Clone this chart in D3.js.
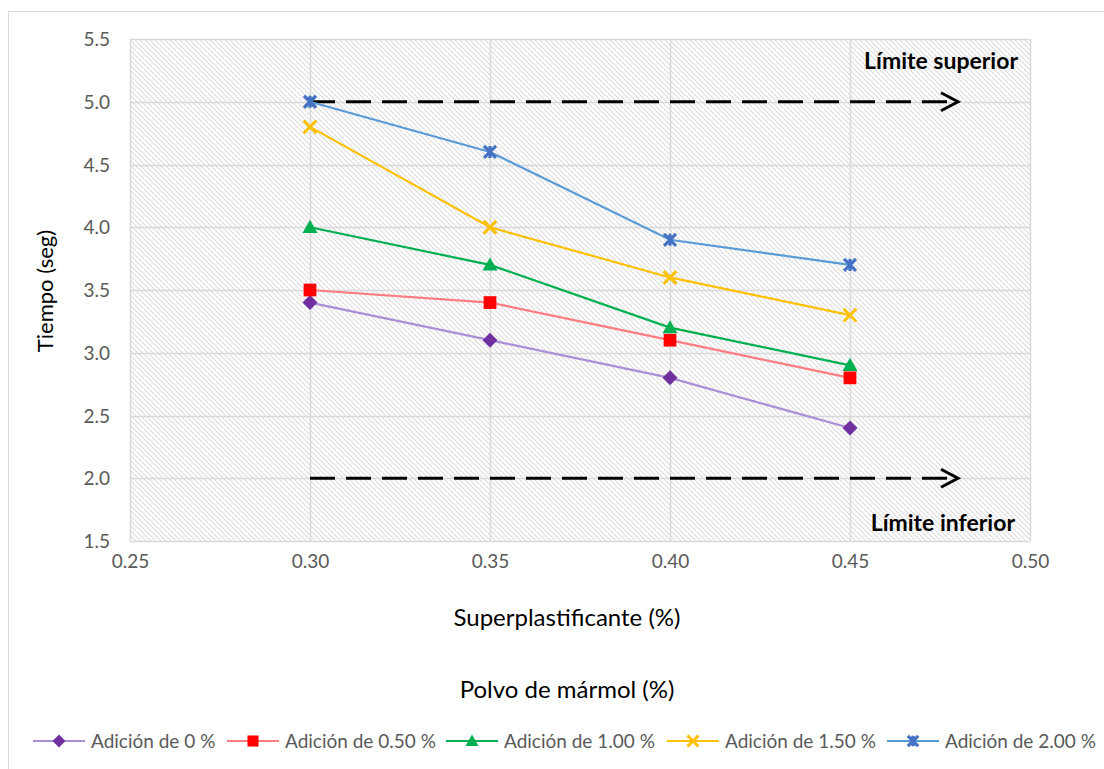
<!DOCTYPE html>
<html>
<head>
<meta charset="utf-8">
<script src="https://d3js.org/d3.v7.min.js"></script>
<style>
  body { margin:0; background:#fff; font-family:Lato, "Open Sans", sans-serif; }
  svg { display:block; font-family:Lato, "Open Sans", sans-serif; }
</style>
</head>
<body>
<div id="chart"></div>
<script>
// data
const xValues = [0.30, 0.35, 0.40, 0.45];
const xTicks = [0.25, 0.30, 0.35, 0.40, 0.45, 0.50];
const yTicks = [1.5, 2.0, 2.5, 3.0, 3.5, 4.0, 4.5, 5.0, 5.5];
const seriesNames = ["Adición de 0 %", "Adición de 0.50 %", "Adición de 1.00 %", "Adición de 1.50 %", "Adición de 2.00 %"];
const add0 = [3.4, 3.1, 2.8, 2.4];
const add050 = [3.5, 3.4, 3.1, 2.8];
const add100 = [4.0, 3.7, 3.2, 2.9];
const add150 = [4.8, 4.0, 3.6, 3.3];
const add200 = [5.0, 4.6, 3.9, 3.7];
const limitUpper = 5.0, limitLower = 2.0;
const limitXStart = 0.30, limitXEnd = 0.48;

const W = 1104, H = 769;
const m = { left: 130, right: 74, top: 39, bottom: 228 };

const series = [
  { name: seriesNames[0], values: add0, line: "#ab8fd6", fill: "#7030a0", shape: "diamond" },
  { name: seriesNames[1], values: add050, line: "#ff7c80", fill: "#ff0000", shape: "square" },
  { name: seriesNames[2], values: add100, line: "#00b050", fill: "#00b050", shape: "triangle" },
  { name: seriesNames[3], values: add150, line: "#ffc000", fill: "#ffc000", shape: "x" },
  { name: seriesNames[4], values: add200, line: "#5b9bd5", fill: "#4472c4", shape: "star" }
];

const svg = d3.select("#chart").append("svg").attr("width", W).attr("height", H);

// outer chart border
svg.append("rect").attr("x", 8.5).attr("y", 11.5).attr("width", W).attr("height", H)
  .attr("fill", "#fff").attr("stroke", "#d9d9d9");

const defs = svg.append("defs");
const pat = defs.append("pattern").attr("id", "hatch")
  .attr("patternUnits", "userSpaceOnUse").attr("width", 5).attr("height", 5);
pat.append("path").attr("d", "M-1,-1L6,6M-1,4L1,6M4,-1L6,1")
  .attr("stroke", "#dcdcdc").attr("stroke-width", 1.1);

const x = d3.scaleLinear().domain([0.25, 0.50]).range([m.left, W - m.right]);
const y = d3.scaleLinear().domain([1.5, 5.5]).range([H - m.bottom, m.top]);

svg.append("rect").attr("x", m.left).attr("y", m.top)
  .attr("width", x(0.5) - x(0.25)).attr("height", y(1.5) - y(5.5))
  .attr("fill", "url(#hatch)");

// gridlines
svg.append("g").selectAll("line").data(yTicks).join("line")
  .attr("x1", m.left).attr("x2", x(0.5))
  .attr("y1", d => Math.round(y(d)) + 0.5).attr("y2", d => Math.round(y(d)) + 0.5)
  .attr("stroke", "#d9d9d9").attr("stroke-width", 1.5);
svg.append("g").selectAll("line").data(xTicks).join("line")
  .attr("y1", m.top).attr("y2", y(1.5))
  .attr("x1", d => Math.round(x(d)) + 0.5).attr("x2", d => Math.round(x(d)) + 0.5)
  .attr("stroke", "#d9d9d9").attr("stroke-width", 1.5);

// axes (labels only)
const xAxis = svg.append("g").attr("transform", `translate(0,${y(1.5)})`)
  .call(d3.axisBottom(x).tickValues(xTicks).tickFormat(d3.format(".2f")).tickSize(0).tickPadding(14));
xAxis.select(".domain").remove();
const yAxis = svg.append("g").attr("transform", `translate(${m.left},0)`)
  .call(d3.axisLeft(y).tickValues(yTicks).tickFormat(d3.format(".1f")).tickSize(0).tickPadding(20));
yAxis.select(".domain").remove();
svg.selectAll(".tick text").attr("font-size", 19).attr("fill", "#595959")
  .attr("font-family", "Lato, sans-serif");
yAxis.selectAll("text").attr("dy", "0.35em");

// axis titles
svg.append("text").attr("x", 567).attr("y", 626).attr("text-anchor", "middle")
  .attr("font-size", 24).attr("fill", "#000").text("Superplastificante (%)");
svg.append("text").attr("x", 567).attr("y", 698).attr("text-anchor", "middle")
  .attr("font-size", 24).attr("fill", "#000").text("Polvo de mármol (%)");
svg.append("text").attr("transform", "translate(53,291) rotate(-90)").attr("text-anchor", "middle")
  .attr("font-size", 22).attr("fill", "#000").text("Tiempo (seg)");

// limit arrows
[limitUpper, limitLower].forEach(v => {
  const yy = y(v);
  svg.append("line").attr("x1", x(limitXStart)).attr("x2", x(limitXEnd) - 2)
    .attr("y1", yy).attr("y2", yy)
    .attr("stroke", "#000").attr("stroke-width", 3).attr("stroke-dasharray", "25,11");
  svg.append("path")
    .attr("d", `M${x(limitXEnd) - 17},${yy - 9}L${x(limitXEnd)},${yy}L${x(limitXEnd) - 17},${yy + 9}`)
    .attr("fill", "none").attr("stroke", "#000").attr("stroke-width", 3);
});
svg.append("text").attr("x", 1018).attr("y", 69).attr("text-anchor", "end")
  .attr("font-size", 23).attr("font-weight", "bold").text("Límite superior");
svg.append("text").attr("x", 1015).attr("y", 531).attr("text-anchor", "end")
  .attr("font-size", 23).attr("font-weight", "bold").text("Límite inferior");

function drawMarker(g, shape, color, s) {
  if (shape === "diamond") {
    g.append("path").attr("d", `M0,${-s}L${s},0L0,${s}L${-s},0Z`).attr("fill", color);
  } else if (shape === "square") {
    g.append("rect").attr("x", -s * 0.85).attr("y", -s * 0.85).attr("width", s * 1.7).attr("height", s * 1.7).attr("fill", color);
  } else if (shape === "triangle") {
    g.append("path").attr("d", `M0,${-s}L${s},${s * 0.75}L${-s},${s * 0.75}Z`).attr("fill", color);
  } else if (shape === "x") {
    const k = s * 0.85;
    g.append("path").attr("d", `M${-k},${-k}L${k},${k}M${-k},${k}L${k},${-k}`)
      .attr("stroke", color).attr("stroke-width", 3);
  } else {
    const k = s * 0.8;
    g.append("path").attr("d", `M${-k},${-k}L${k},${k}M${-k},${k}L${k},${-k}M0,${-k}L0,${k}`)
      .attr("stroke", color).attr("stroke-width", 3.2);
  }
}

const line = d3.line().x((d, i) => x(xValues[i])).y(d => y(d));
series.forEach(sr => {
  svg.append("path").datum(sr.values).attr("d", line)
    .attr("fill", "none").attr("stroke", sr.line).attr("stroke-width", 2.2);
  sr.values.forEach((v, i) => {
    const g = svg.append("g").attr("transform", `translate(${x(xValues[i])},${y(v)})`);
    drawMarker(g, sr.shape, sr.fill, 7.5);
  });
});

// legend
const legendX = [33, 227, 446, 667, 887];
series.forEach((sr, i) => {
  const g = svg.append("g").attr("transform", `translate(${legendX[i]},741)`);
  g.append("line").attr("x1", 0).attr("x2", 52).attr("stroke", sr.line).attr("stroke-width", 2.2);
  const mg = g.append("g").attr("transform", "translate(26,0)");
  drawMarker(mg, sr.shape, sr.fill, 6.5);
  g.append("text").attr("x", 58).attr("y", 0).attr("dy", "0.35em")
    .attr("font-size", 19).attr("fill", "#595959").text(sr.name);
});
</script>
</body>
</html>
